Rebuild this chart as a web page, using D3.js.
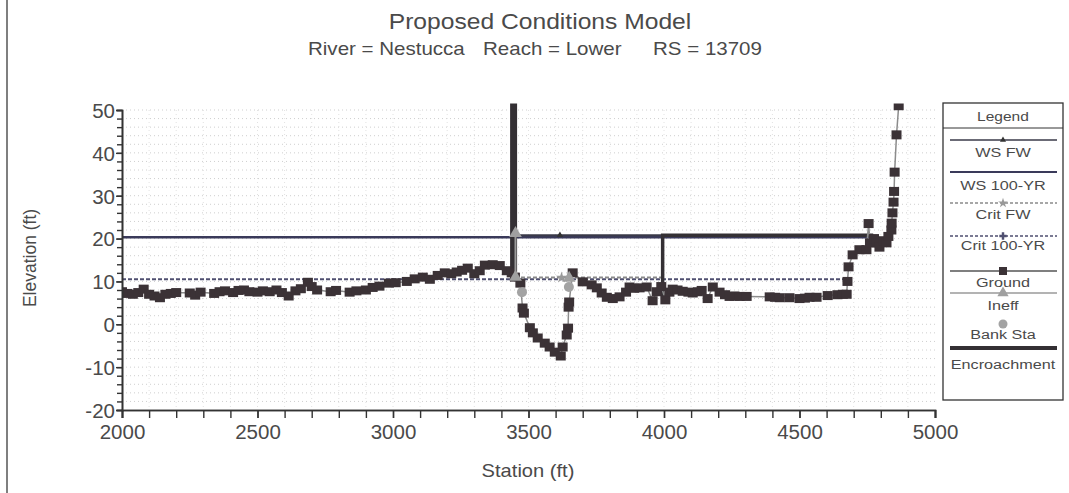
<!DOCTYPE html>
<html>
<head>
<meta charset="utf-8">
<script src="https://cdn.jsdelivr.net/npm/d3@7"></script>
<style>
  body { margin: 0; background: #fff; }
  svg text { font-family: "Liberation Sans", Arial, sans-serif; fill: #4a4a4a; }
</style>
</head>
<body>
<div id="wrapper"></div>
<script>
// ground profile (station ft, elevation ft)
const groundStation = [
  2000, 2020, 2040, 2060, 2080, 2100, 2120, 2140, 2160, 2180, 2200, 2250, 2270, 2290,
  2340, 2360, 2380, 2410, 2430, 2450, 2470, 2500, 2520, 2545, 2570, 2590, 2615, 2640,
  2660, 2686, 2700, 2720, 2770, 2790, 2840, 2865, 2900, 2925, 2950, 2985, 3010, 3051,
  3080, 3110, 3136, 3165, 3191, 3215, 3235, 3255, 3276, 3300, 3320, 3339, 3368, 3394,
  3420, 3438, 3450, 3470, 3478, 3483, 3505, 3516, 3534, 3560, 3578, 3597, 3619, 3626,
  3641, 3646, 3648, 3650, 3663, 3700, 3733, 3752, 3770, 3789, 3811, 3836, 3860, 3873,
  3890, 3910, 3936, 3958, 3973, 3990, 4005, 4020, 4032, 4050, 4069, 4090, 4106, 4125,
  4139, 4161, 4180, 4205, 4225, 4242, 4260, 4279, 4305, 4390, 4410, 4427, 4463, 4500,
  4520, 4537, 4563, 4604, 4640, 4660, 4674, 4677, 4681, 4696, 4721, 4747, 4755, 4760,
  4775, 4784, 4795, 4810, 4821, 4828, 4839, 4840, 4843, 4847, 4849, 4851, 4858, 4866
]
const groundElevation = [
  7.6, 7.2, 7.0, 7.4, 8.2, 7.0, 6.6, 6.2, 7.0, 7.2, 7.4, 7.3, 6.8, 7.5,
  7.2, 7.6, 7.8, 7.4, 7.9, 8.0, 7.6, 7.5, 7.8, 7.6, 8.0, 7.4, 6.6, 7.8,
  8.3, 9.8, 8.8, 8.0, 7.6, 7.9, 7.5, 7.8, 8.0, 8.6, 8.9, 9.6, 9.7, 10.0,
  10.6, 11.0, 10.5, 11.4, 12.0, 11.8, 12.2, 12.6, 13.1, 11.8, 12.5, 13.8, 13.9, 13.7,
  12.5, 12.0, 11.0, 9.6, 3.8, 2.6, -0.8, -2.0, -3.2, -4.4, -5.3, -6.5, -7.4, -5.3,
  -2.5, -0.9, 4.0, 5.2, 12.0, 9.9, 9.2, 8.5, 7.3, 6.3, 6.0, 6.4, 7.5, 8.7,
  8.4, 8.5, 8.7, 5.5, 7.6, 8.8, 5.7, 7.5, 8.2, 8.0, 7.7, 7.5, 7.3, 7.6,
  7.9, 6.0, 8.7, 7.5, 6.9, 6.5, 6.6, 6.5, 6.5, 6.4, 6.3, 6.2, 6.2, 6.0,
  6.1, 6.3, 6.3, 6.7, 6.9, 7.0, 7.0, 10.0, 13.4, 16.2, 17.4, 17.4, 23.5, 19.0,
  20.0, 19.0, 18.0, 19.5, 19.0, 20.5, 22.0, 23.6, 26.0, 28.5, 31.0, 35.5, 44.2, 51.0
]

const ws100Station = [2000, 4775]
const ws100Elevation = [20.3, 20.3]
const wsFwStation = [3445, 3995]
const wsFwElevation = [20.8, 20.8]
const wsFwMarkStation = [3616]

const crit100Station = [2000, 4676]
const crit100Elevation = [10.5, 10.5]
const critFwStation = [3450, 3995]
const critFwElevation = [10.9, 10.9]
const critFwMarkStation = [3622]

const ineffStation = [3452, 3452]
const ineffElevation = [21.2, 11.0]
const ineffMarkStation = [3452, 3452, 3650]
const ineffMarkElevation = [21.2, 11.0, 10.8]

const bankStation = [3476, 3649]
const bankElevation = [7.5, 8.7]

const encroachLeftStation = [3445, 3445]
const encroachLeftElevation = [12.0, 52.0]
const encroachRightStation = [3995, 3995, 4772]
const encroachRightElevation = [5.7, 20.8, 20.8]

const xTicks = [2000, 2500, 3000, 3500, 4000, 4500, 5000]
const yTicks = [-20, -10, 0, 10, 20, 30, 40, 50]
const legendLabels = ["WS FW", "WS 100-YR", "Crit FW", "Crit 100-YR", "Ground", "Ineff", "Bank Sta", "Encroachment"]

const pairs = (xs, ys) => xs.map((x, i) => [x, ys[i]])

let dimensions = {
  width: 1069,
  height: 493,
  margin: { top: 110, right: 134, bottom: 83, left: 122 },
}
dimensions.boundedWidth = dimensions.width - dimensions.margin.left - dimensions.margin.right
dimensions.boundedHeight = dimensions.height - dimensions.margin.top - dimensions.margin.bottom

const wrapper = d3.select("#wrapper")
  .append("svg")
  .attr("width", dimensions.width)
  .attr("height", dimensions.height)

// scanned page frame on the left
wrapper.append("line")
  .attr("x1", 7).attr("x2", 7).attr("y1", 0).attr("y2", dimensions.height)
  .attr("stroke", "#555").attr("stroke-width", 1.5)

const xScaler = d3.scaleLinear()
  .domain([2000, 5000])
  .range([dimensions.margin.left, dimensions.margin.left + dimensions.boundedWidth])
const yScaler = d3.scaleLinear()
  .domain([-20, 50])
  .range([dimensions.margin.top + dimensions.boundedHeight, dimensions.margin.top])

// stretched text like the scan
const stretchText = (x, y, txt, size, sx, anchor) => {
  const g = wrapper.append("g").attr("transform", `translate(${x},${y}) scale(${sx},1)`)
  return g.append("text").attr("font-size", size).attr("text-anchor", anchor || "middle").text(txt)
}

// titles
stretchText(540, 29, "Proposed Conditions Model", 22, 1.12)
stretchText(308, 55, "River = Nestucca", 18, 1.14, "start")
stretchText(483, 55, "Reach = Lower", 18, 1.14, "start")
stretchText(653, 55, "RS = 13709", 18, 1.14, "start")
stretchText(528, 477, "Station (ft)", 17.5, 1.15)
wrapper.append("text")
  .attr("transform", `translate(36, 258) rotate(-90)`)
  .attr("text-anchor", "middle")
  .attr("font-size", 17.5)
  .text("Elevation (ft)")

// grid
const grid = wrapper.append("g").attr("stroke", "#cfcfcf").attr("stroke-width", 1).attr("stroke-dasharray", "1 3")
grid.selectAll(".h").data(d3.range(-18, 51, 2)).join("line")
  .attr("x1", xScaler(2000)).attr("x2", xScaler(5000))
  .attr("y1", d => yScaler(d)).attr("y2", d => yScaler(d))
grid.selectAll(".v").data(d3.range(2100, 5000, 100)).join("line")
  .attr("x1", d => xScaler(d)).attr("x2", d => xScaler(d))
  .attr("y1", yScaler(50)).attr("y2", yScaler(-20))
  .attr("stroke", "#e2e2e2")

wrapper.append("clipPath").attr("id", "clip")
  .append("rect")
  .attr("x", xScaler(2000)).attr("y", yScaler(51.5))
  .attr("width", dimensions.boundedWidth).attr("height", yScaler(-20) - yScaler(51.5))

const bounds = wrapper.append("g").attr("clip-path", "url(#clip)")
const line = d3.line().x(d => xScaler(d[0])).y(d => yScaler(d[1]))

// critical depth
bounds.append("path").attr("d", line(pairs(crit100Station, crit100Elevation)))
  .attr("fill", "none").attr("stroke", "#4f4f70").attr("stroke-width", 2).attr("stroke-dasharray", "4 2")
bounds.append("path").attr("d", line(pairs(critFwStation, critFwElevation)))
  .attr("fill", "none").attr("stroke", "#8a8a8a").attr("stroke-width", 2).attr("stroke-dasharray", "4 2")
bounds.selectAll(".critmark").data(critFwMarkStation).join("path")
  .attr("transform", d => `translate(${xScaler(d)},${yScaler(critFwElevation[0])})`)
  .attr("d", d3.symbol(d3.symbolStar, 40))
  .attr("fill", "#999")

// water surface
bounds.append("path").attr("d", line(pairs(ws100Station, ws100Elevation)))
  .attr("fill", "none").attr("stroke", "#3a3a5a").attr("stroke-width", 2.4)
bounds.append("path").attr("d", line(pairs(wsFwStation, wsFwElevation)))
  .attr("fill", "none").attr("stroke", "#3a3a48").attr("stroke-width", 2)
bounds.selectAll(".wsmark").data(wsFwMarkStation).join("path")
  .attr("transform", d => `translate(${xScaler(d)},${yScaler(wsFwElevation[0])})`)
  .attr("d", d3.symbol(d3.symbolTriangle, 18))
  .attr("fill", "#333")

// encroachments
bounds.append("path").attr("d", line(pairs(encroachLeftStation, encroachLeftElevation)))
  .attr("fill", "none").attr("stroke", "#343034").attr("stroke-width", 7)
bounds.append("path").attr("d", line(pairs(encroachRightStation, encroachRightElevation)))
  .attr("fill", "none").attr("stroke", "#343034").attr("stroke-width", 3.5)

// ground
const ground = pairs(groundStation, groundElevation)
bounds.append("path").attr("d", line(ground))
  .attr("fill", "none").attr("stroke", "#8c8c8c").attr("stroke-width", 1.5)
bounds.selectAll(".ground").data(ground).join("rect")
  .attr("x", d => xScaler(d[0]) - 5)
  .attr("y", d => yScaler(d[1]) - 4.5)
  .attr("width", 10).attr("height", 9)
  .attr("fill", "#3b3236")

// ineffective flow
bounds.append("path").attr("d", line(pairs(ineffStation, ineffElevation)))
  .attr("fill", "none").attr("stroke", "#9a9a9a").attr("stroke-width", 2)
bounds.selectAll(".ineff").data(pairs(ineffMarkStation, ineffMarkElevation)).join("path")
  .attr("transform", d => `translate(${xScaler(d[0])},${yScaler(d[1])})`)
  .attr("d", d3.symbol(d3.symbolTriangle, 70))
  .attr("fill", "#a0a0a0")

// bank stations
bounds.selectAll(".bank").data(pairs(bankStation, bankElevation)).join("circle")
  .attr("cx", d => xScaler(d[0])).attr("cy", d => yScaler(d[1]))
  .attr("r", 5).attr("fill", "#a3a3a3")

// axes
const xMinor = wrapper.append("g")
  .attr("transform", `translate(0, ${yScaler(-20)})`)
  .call(d3.axisBottom(xScaler).tickValues(d3.range(2000, 5001, 100)).tickSize(8).tickFormat(""))
const xAxis = wrapper.append("g")
  .attr("transform", `translate(0, ${yScaler(-20)})`)
  .call(d3.axisBottom(xScaler).tickValues(xTicks).tickSize(8).tickPadding(6).tickFormat(d => String(d)))
const yMinor = wrapper.append("g")
  .attr("transform", `translate(${xScaler(2000)}, 0)`)
  .call(d3.axisLeft(yScaler).tickValues(d3.range(-20, 51, 2)).tickSize(5).tickFormat(""))
const yAxis = wrapper.append("g")
  .attr("transform", `translate(${xScaler(2000)}, 0)`)
  .call(d3.axisLeft(yScaler).tickValues(yTicks).tickSize(6).tickPadding(1).tickFormat(d => String(d)))

;[xMinor, xAxis, yMinor, yAxis].forEach(ax => {
  ax.select(".domain").attr("stroke", "#333").attr("stroke-width", 1.6)
  ax.selectAll(".tick line").attr("stroke", "#333").attr("stroke-width", 1.4)
  ax.selectAll("text").attr("font-size", 20.5).attr("fill", "#555")
    .attr("font-family", '"Liberation Sans", Arial, sans-serif')
})
yAxis.selectAll("text").attr("dy", "0.36em")

// legend
const legend = wrapper.append("g")
legend.append("rect")
  .attr("x", 943).attr("y", 103).attr("width", 120).attr("height", 297)
  .attr("fill", "#fff").attr("stroke", "#333").attr("stroke-width", 1.3)
legend.append("line").attr("x1", 943).attr("x2", 1063).attr("y1", 128).attr("y2", 128)
  .attr("stroke", "#333").attr("stroke-width", 1)
const lgTitle = legend.append("g").attr("transform", "translate(1003,121) scale(1.15,1)")
lgTitle.append("text").attr("text-anchor", "middle").attr("font-size", 13.5).text("Legend")

const legendLineY = [140, 172, 203, 236, 271, 293, null, 348]
const legendTextY = [157, 190, 219, 250, 287, 310, 339, 369]
const legendStyle = [
  { stroke: "#3a3a48", width: 1.6 },
  { stroke: "#3a3a5a", width: 1.8 },
  { stroke: "#8a8a8a", width: 1.4, dash: "3 2" },
  { stroke: "#4f4f70", width: 1.4, dash: "3 2" },
  { stroke: "#555", width: 1.4 },
  { stroke: "#9a9a9a", width: 1.4 },
  null,
  { stroke: "#343034", width: 4 },
]
legendLabels.forEach((lab, i) => {
  const st = legendStyle[i]
  if (st) {
    legend.append("line")
      .attr("x1", 950).attr("x2", 1057)
      .attr("y1", legendLineY[i]).attr("y2", legendLineY[i])
      .attr("stroke", st.stroke).attr("stroke-width", st.width)
      .attr("stroke-dasharray", st.dash || null)
  }
  const g = legend.append("g").attr("transform", `translate(1003,${legendTextY[i]}) scale(1.2,1)`)
  g.append("text").attr("text-anchor", "middle").attr("font-size", 13.5).text(lab)
})
// legend markers
legend.append("path").attr("transform", `translate(1003,${legendLineY[0]})`)
  .attr("d", d3.symbol(d3.symbolTriangle, 16)).attr("fill", "#333")
legend.append("path").attr("transform", `translate(1003,${legendLineY[2]})`)
  .attr("d", d3.symbol(d3.symbolStar, 30)).attr("fill", "#999")
legend.append("path").attr("transform", `translate(1003,${legendLineY[3]})`)
  .attr("d", d3.symbol(d3.symbolCross, 30)).attr("fill", "#4f4f70")
legend.append("rect").attr("x", 999).attr("y", legendLineY[4] - 4).attr("width", 8).attr("height", 8)
  .attr("fill", "#3b3236")
legend.append("path").attr("transform", `translate(1003,${legendLineY[5]})`)
  .attr("d", d3.symbol(d3.symbolTriangle, 55)).attr("fill", "#a0a0a0")
legend.append("circle").attr("cx", 1003).attr("cy", 324).attr("r", 4.5).attr("fill", "#a3a3a3")
</script>
</body>
</html>
